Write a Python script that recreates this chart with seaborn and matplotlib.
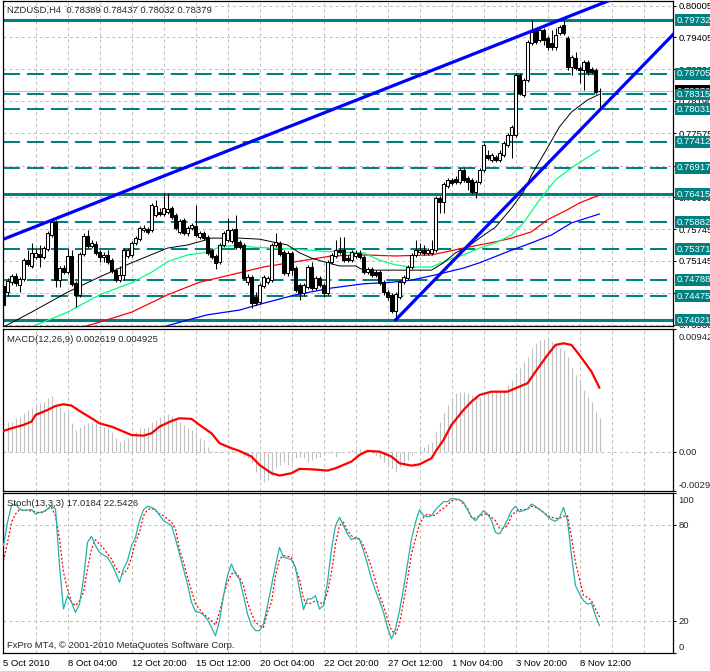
import matplotlib
matplotlib.use("Agg")
import matplotlib.pyplot as plt
import numpy as np
import seaborn as sns

# ---------------- data: NZDUSD H4 candles (bars 0..149) ----------------
opens = [
    0.7467, 0.7455, 0.7474, 0.7486, 0.7469, 0.7480, 0.7516, 0.7505, 0.7522, 0.7528,
    0.7522, 0.7537, 0.7564, 0.7589, 0.7478, 0.7501, 0.7493, 0.7524, 0.7473, 0.7450,
    0.7528, 0.7562, 0.7543, 0.7547, 0.7531, 0.7522, 0.7526, 0.7516, 0.7497, 0.7478,
    0.7488, 0.7524, 0.7526, 0.7549, 0.7556, 0.7574, 0.7576, 0.7574, 0.7602, 0.7608,
    0.7604, 0.7608, 0.7615, 0.7602, 0.7570, 0.7593, 0.7568, 0.7577, 0.7581, 0.7560,
    0.7568, 0.7560, 0.7535, 0.7524, 0.7513, 0.7545, 0.7554, 0.7552, 0.7576, 0.7551,
    0.7545, 0.7474, 0.7484, 0.7446, 0.7436, 0.7467, 0.7474, 0.7478, 0.7545, 0.7549,
    0.7531, 0.7492, 0.7530, 0.7501, 0.7469, 0.7454, 0.7465, 0.7503, 0.7463, 0.7482,
    0.7469, 0.7454, 0.7513, 0.7524, 0.7535, 0.7535, 0.7520, 0.7516, 0.7524, 0.7530,
    0.7522, 0.7493, 0.7499, 0.7493, 0.7493, 0.7474, 0.7455, 0.7450, 0.7419, 0.7446,
    0.7474, 0.7482, 0.7503, 0.7526, 0.7531, 0.7535, 0.7530, 0.7530, 0.7535, 0.7634,
    0.7627, 0.7657, 0.7669, 0.7671, 0.7665, 0.7688, 0.7672, 0.7669, 0.7646, 0.7665,
    0.7688, 0.7716, 0.7707, 0.7712, 0.7707, 0.7716, 0.7735, 0.7754, 0.7754, 0.7869,
    0.7830, 0.7859, 0.7929, 0.7954, 0.7935, 0.7954, 0.7939, 0.7929, 0.7922, 0.7948,
    0.7964, 0.7939, 0.7884, 0.7901, 0.7882, 0.7878, 0.7893, 0.7880, 0.7878, 0.78389,
]
highs = [
    0.7473, 0.7482, 0.7490, 0.7492, 0.7484, 0.7520, 0.7535, 0.7549, 0.7537, 0.7545,
    0.7543, 0.7572, 0.7593, 0.7593, 0.7505, 0.7507, 0.7539, 0.7535, 0.7476, 0.7531,
    0.7568, 0.7574, 0.7554, 0.7552, 0.7535, 0.7531, 0.7535, 0.7520, 0.7501, 0.7505,
    0.7539, 0.7539, 0.7552, 0.7562, 0.7581, 0.7583, 0.7579, 0.7625, 0.7631, 0.7615,
    0.7644, 0.7644, 0.7619, 0.7606, 0.7594, 0.7596, 0.7581, 0.7587, 0.7621, 0.7572,
    0.7572, 0.7564, 0.7539, 0.7528, 0.7549, 0.7572, 0.7596, 0.7577, 0.7602, 0.7554,
    0.7549, 0.7490, 0.7488, 0.7455, 0.7473, 0.7488, 0.7486, 0.7549, 0.7568, 0.7552,
    0.7535, 0.7533, 0.7533, 0.7505, 0.7473, 0.7473, 0.7507, 0.7513, 0.7486, 0.7486,
    0.7473, 0.7516, 0.7530, 0.7554, 0.7560, 0.7560, 0.7526, 0.7535, 0.7535, 0.7535,
    0.7526, 0.7503, 0.7503, 0.7497, 0.7497, 0.7478, 0.7459, 0.7454, 0.7455, 0.7478,
    0.7488, 0.7507, 0.7530, 0.7554, 0.7549, 0.7545, 0.7539, 0.7554, 0.7638, 0.7638,
    0.7665, 0.7672, 0.7672, 0.7676, 0.7691, 0.7691, 0.7676, 0.7672, 0.7669, 0.7691,
    0.7739, 0.7726, 0.7720, 0.7716, 0.7726, 0.7743, 0.7758, 0.7773, 0.7872, 0.7872,
    0.7863, 0.7935, 0.7973, 0.7958, 0.7958, 0.7958, 0.7943, 0.7954, 0.7958, 0.7964,
    0.7973, 0.7943, 0.7907, 0.7912, 0.7886, 0.7897, 0.7897, 0.7884, 0.7882, 0.78437,
]
lows = [
    0.7406, 0.7448, 0.7469, 0.7467, 0.7455, 0.7476, 0.7505, 0.7501, 0.7518, 0.7503,
    0.7518, 0.7533, 0.7560, 0.7465, 0.7465, 0.7490, 0.7490, 0.7467, 0.7427, 0.7446,
    0.7524, 0.7539, 0.7539, 0.7526, 0.7513, 0.7513, 0.7509, 0.7492, 0.7474, 0.7474,
    0.7478, 0.7520, 0.7522, 0.7545, 0.7552, 0.7570, 0.7566, 0.7570, 0.7598, 0.7600,
    0.7600, 0.7604, 0.7594, 0.7574, 0.7566, 0.7564, 0.7562, 0.7574, 0.7560, 0.7556,
    0.7554, 0.7526, 0.7518, 0.7499, 0.7509, 0.7541, 0.7551, 0.7549, 0.7537, 0.7537,
    0.7478, 0.7469, 0.7425, 0.7431, 0.7433, 0.7463, 0.7471, 0.7474, 0.7541, 0.7524,
    0.7488, 0.7486, 0.7488, 0.7455, 0.7440, 0.7448, 0.7461, 0.7459, 0.7459, 0.7465,
    0.7446, 0.7450, 0.7509, 0.7520, 0.7528, 0.7513, 0.7513, 0.7513, 0.7520, 0.7518,
    0.7490, 0.7490, 0.7484, 0.7484, 0.7469, 0.7450, 0.7440, 0.7415, 0.7402, 0.7442,
    0.7471, 0.7478, 0.7499, 0.7522, 0.7528, 0.7526, 0.7526, 0.7526, 0.7531, 0.7606,
    0.7606, 0.7653, 0.7659, 0.7661, 0.7661, 0.7665, 0.7650, 0.7642, 0.7634, 0.7661,
    0.7684, 0.7707, 0.7703, 0.7703, 0.7703, 0.7712, 0.7731, 0.7710, 0.7750, 0.7830,
    0.7827, 0.7855, 0.7926, 0.7927, 0.7931, 0.7926, 0.7916, 0.7916, 0.7916, 0.7945,
    0.7945, 0.7878, 0.7869, 0.7878, 0.7853, 0.7840, 0.7869, 0.7870, 0.7832, 0.78032,
]
closes = [
    0.7431, 0.7476, 0.7486, 0.7473, 0.7480, 0.7516, 0.7509, 0.7530, 0.7530, 0.7522,
    0.7539, 0.7568, 0.7589, 0.7478, 0.7501, 0.7493, 0.7524, 0.7471, 0.7450, 0.7528,
    0.7562, 0.7543, 0.7549, 0.7530, 0.7522, 0.7526, 0.7513, 0.7495, 0.7478, 0.7488,
    0.7535, 0.7535, 0.7549, 0.7558, 0.7577, 0.7577, 0.7570, 0.7621, 0.7619, 0.7604,
    0.7615, 0.7613, 0.7598, 0.7577, 0.7591, 0.7568, 0.7577, 0.7583, 0.7564, 0.7568,
    0.7558, 0.7530, 0.7522, 0.7511, 0.7545, 0.7568, 0.7574, 0.7574, 0.7541, 0.7541,
    0.7482, 0.7484, 0.7434, 0.7434, 0.7469, 0.7484, 0.7482, 0.7545, 0.7551, 0.7528,
    0.7492, 0.7530, 0.7497, 0.7459, 0.7454, 0.7469, 0.7503, 0.7463, 0.7482, 0.7469,
    0.7454, 0.7513, 0.7526, 0.7535, 0.7531, 0.7516, 0.7516, 0.7531, 0.7530, 0.7522,
    0.7493, 0.7499, 0.7488, 0.7488, 0.7473, 0.7455, 0.7446, 0.7419, 0.7452, 0.7474,
    0.7484, 0.7503, 0.7526, 0.7535, 0.7535, 0.7530, 0.7535, 0.7537, 0.7634, 0.7627,
    0.7661, 0.7669, 0.7663, 0.7665, 0.7688, 0.7669, 0.7665, 0.7646, 0.7665, 0.7688,
    0.7735, 0.7710, 0.7716, 0.7707, 0.7720, 0.7739, 0.7754, 0.7770, 0.7869, 0.7834,
    0.7859, 0.7931, 0.7950, 0.7931, 0.7954, 0.7935, 0.7922, 0.7922, 0.7945, 0.7960,
    0.7948, 0.7884, 0.7903, 0.7882, 0.7878, 0.7893, 0.7874, 0.7874, 0.7836, 0.78379,
]

# moving averages (bar, price)
ma_black_bar = [0, 7, 16, 24, 32, 41, 46, 49, 52, 59, 64, 71, 74, 77, 81, 84, 88, 90, 96, 101,
                107, 110, 113, 116, 119, 123, 127, 130, 132, 136, 139, 142, 146, 149]
ma_black_val = [0.7389, 0.7417, 0.7455, 0.7484, 0.7511, 0.7539, 0.7545, 0.7551, 0.7558, 0.7558,
                0.7556, 0.7545, 0.7530, 0.7520, 0.7511, 0.7505, 0.7505, 0.7497, 0.7497, 0.7497,
                0.7497, 0.7511, 0.7530, 0.7541, 0.7558, 0.7579, 0.7615, 0.7646, 0.7678, 0.7730,
                0.7770, 0.7798, 0.7821, 0.7832]
ma_lime_bar = [7, 16, 24, 32, 37, 41, 46, 51, 54, 59, 62, 67, 73, 80, 86, 90, 94, 98, 102, 107,
               111, 115, 119, 123, 127, 130, 134, 138, 143, 149]
ma_lime_val = [0.7389, 0.7417, 0.7450, 0.7473, 0.7493, 0.7513, 0.7526, 0.7531, 0.7541, 0.7545,
               0.7541, 0.7539, 0.7537, 0.7533, 0.7531, 0.7530, 0.7516, 0.7507, 0.7503, 0.7503,
               0.7516, 0.7526, 0.7539, 0.7549, 0.7564, 0.7587, 0.7631, 0.7669, 0.7697, 0.7726]
ma_red_bar = [20, 24, 32, 41, 49, 59, 65, 73, 82, 90, 98, 107, 115, 119, 123, 127, 132, 136, 141, 144, 149]
ma_red_val = [0.7389, 0.7398, 0.7417, 0.7450, 0.7474, 0.7492, 0.7503, 0.7513, 0.7524, 0.7526,
              0.7524, 0.7526, 0.7539, 0.7545, 0.7551, 0.7558, 0.7570, 0.7593, 0.7612, 0.7625, 0.7640]
ma_blue_bar = [40, 46, 51, 59, 65, 73, 82, 90, 97, 102, 108, 115, 119, 127, 132, 137, 142, 149]
ma_blue_val = [0.7389, 0.7402, 0.7412, 0.7421, 0.7434, 0.7450, 0.7463, 0.7471, 0.7474, 0.7478,
               0.7488, 0.7501, 0.7511, 0.7535, 0.7549, 0.7564, 0.7587, 0.7604]

# trend lines (anchor bar, anchor price)
trend_upper_bar = [0, 155]
trend_upper_price = [0.7556, 0.8021]
trend_lower_bar = [98, 170]
trend_lower_price = [0.7402, 0.7966]

# horizontal levels
levels_solid = [0.79732, 0.76415, 0.74021]
levels_dashed = [0.78705, 0.78315, 0.78031, 0.77412, 0.76917, 0.75882, 0.75371, 0.74788, 0.74475]
bid_price = 0.78379
price_ticks = [0.80005, 0.79405, 0.78790, 0.78190, 0.77575, 0.76960, 0.76360,
               0.75745, 0.75145, 0.74530, 0.73930]

# MACD in units of 1e-4
macd_hist = [
    15.8, 23.4, 23.4, 26.0, 27.2, 29.8, 32.3, 33.6, 36.2, 37.4,
    38.7, 41.2, 43.3, 36.2, 34.9, 31.1, 29.8, 22.1, 17.1, 19.6,
    20.9, 22.1, 23.4, 22.1, 20.9, 19.6, 18.3, 15.8, 10.7, 8.1,
    9.4, 10.7, 13.2, 15.8, 18.3, 18.3, 19.6, 23.4, 24.7, 27.2,
    28.5, 29.0, 28.0, 26.0, 23.4, 20.9, 18.3, 17.1, 15.8, 10.7,
    9.4, 4.3, 1.0, 0.0, -0.8, 0.5, 1.0, 1.8, 0.5, -0.8,
    -3.3, -4.6, -8.4, -14.8, -21.2, -22.4, -21.2, -17.3, -12.2, -9.7,
    -7.1, -9.7, -8.4, -4.6, -3.3, -4.6, -7.1, -5.9, -4.6, -3.3,
    -2.0, -0.8, -0.8, -3.3, -0.8, 0.5, 1.0, 1.8, 2.5, 2.5,
    1.8, 1.0, -0.8, -2.0, -4.6, -7.1, -9.7, -12.2, -14.8, -11.0,
    -8.4, -5.9, -2.0, 0.5, 2.5, 4.3, 6.1, 8.1, 15.8, 23.4,
    29.8, 36.2, 41.7, 45.1, 46.3, 46.3, 45.1, 43.8, 42.5, 42.5,
    43.8, 45.1, 46.3, 46.3, 47.6, 47.6, 51.4, 55.3, 60.4, 64.2,
    69.3, 73.1, 79.5, 83.3, 85.8, 86.6, 86.6, 84.5, 82.0, 79.5,
    78.2, 73.1, 65.4, 59.1, 54.0, 47.6, 42.5, 38.7, 31.1, 26.2,
]
macd_sig_bar = [0, 2, 5, 7, 8, 11, 13, 15, 17, 19, 22, 24, 27, 30, 32, 35, 37, 39, 42, 44,
                47, 49, 52, 54, 57, 59, 62, 64, 67, 69, 72, 74, 77, 81, 83, 87, 89, 91, 94, 97,
                99, 102, 104, 107, 108, 110, 112, 115, 117, 119, 122, 126, 128, 131, 133, 136,
                138, 140, 142, 144, 147, 149]
macd_sig_val = [16.3, 18.3, 20.9, 23.4, 28.5, 32.3, 35.4, 36.7, 35.7, 31.6, 26.0, 22.1, 19.6,
                15.8, 13.2, 12.7, 14.5, 19.6, 23.9, 26.0, 25.5, 20.9, 14.5, 6.9, 3.1, 1.0, -3.3,
                -9.7, -16.0, -17.8, -16.0, -12.7, -13.0, -14.0, -12.2, -7.1, -2.0, 1.0, 0.5,
                -3.3, -8.4, -10.2, -9.2, -4.6, 0.5, 9.4, 20.9, 32.3, 38.7, 43.8, 46.3, 46.3,
                48.9, 52.7, 61.6, 74.3, 82.0, 83.3, 82.0, 74.3, 61.6, 49.25]

# Stochastic (13,3,3)
stoch_main = [
    67.1, 81.7, 92.1, 93.1, 90.0, 89.0, 89.4, 89.6, 86.9, 87.9,
    88.3, 90.0, 92.1, 90.0, 54.6, 27.5, 35.8, 31.7, 25.4, 30.6,
    46.2, 69.2, 72.9, 67.1, 62.9, 61.2, 59.8, 55.6, 50.4, 44.2,
    52.5, 57.7, 67.1, 72.3, 82.7, 89.6, 91.7, 91.0, 89.6, 86.2,
    82.7, 81.2, 79.6, 71.2, 61.9, 52.5, 43.1, 31.7, 25.8, 25.4,
    23.8, 20.8, 16.0, 10.8, 20.2, 35.8, 48.3, 55.6, 49.4, 46.2,
    35.8, 24.4, 17.1, 14.0, 14.0, 18.1, 29.6, 42.1, 54.6, 66.0,
    59.8, 59.2, 58.3, 53.5, 40.0, 27.1, 33.8, 33.8, 35.8, 27.5,
    29.6, 44.2, 65.0, 79.6, 84.8, 79.6, 74.4, 70.8, 72.3, 71.2,
    64.0, 55.6, 46.2, 39.0, 32.7, 25.4, 16.0, 8.8, 15.0, 26.5,
    40.0, 55.6, 71.2, 81.7, 89.6, 85.8, 85.2, 85.8, 89.6, 92.1,
    94.6, 94.6, 96.7, 96.2, 95.8, 94.2, 89.6, 84.8, 82.7, 85.8,
    89.0, 86.9, 82.7, 75.4, 74.4, 78.5, 83.3, 89.0, 91.7, 88.3,
    89.0, 90.0, 93.1, 91.7, 89.6, 87.9, 85.4, 83.3, 82.3, 84.4,
    91.0, 82.7, 60.8, 42.1, 36.9, 32.7, 30.6, 31.2, 23.3, 17.02,
]
stoch_signal = [
    57.7, 69.2, 81.7, 86.9, 89.6, 89.4, 89.0, 88.8, 88.3, 87.5,
    87.9, 90.0, 91.0, 85.8, 71.2, 50.4, 40.0, 31.7, 29.6, 32.7,
    37.9, 52.5, 65.0, 70.8, 68.1, 65.4, 61.9, 58.8, 53.5, 50.4,
    49.4, 52.5, 59.8, 69.2, 75.4, 85.8, 89.6, 90.4, 89.0, 86.9,
    85.8, 83.8, 81.7, 77.5, 65.0, 56.7, 47.3, 39.0, 30.6, 27.5,
    24.4, 22.3, 20.2, 17.5, 25.4, 35.8, 44.2, 49.4, 50.4, 47.3,
    42.1, 31.7, 24.4, 19.2, 17.1, 16.0, 25.4, 31.7, 48.3, 58.8,
    60.8, 60.4, 59.8, 52.5, 46.2, 33.8, 30.6, 31.2, 32.7, 31.7,
    30.6, 37.9, 50.4, 68.1, 79.6, 81.7, 76.5, 73.3, 71.2, 71.2,
    67.1, 60.8, 53.5, 45.2, 36.2, 29.6, 21.2, 14.0, 11.9, 18.1,
    31.7, 46.2, 61.9, 71.2, 80.6, 84.8, 86.9, 85.8, 86.2, 88.8,
    90.4, 92.5, 95.0, 95.8, 95.8, 93.1, 90.4, 84.8, 84.2, 85.8,
    86.5, 86.9, 84.8, 82.7, 77.9, 77.9, 79.6, 85.8, 88.3, 89.6,
    89.6, 90.0, 91.7, 91.0, 90.0, 87.9, 85.8, 84.8, 84.2, 84.2,
    85.4, 85.8, 72.3, 56.7, 46.2, 35.8, 34.8, 32.7, 27.5, 22.54,
]

date_bars = [0, 16, 32, 48, 64, 80, 96, 112, 128, 144]
date_labels = ["5 Oct 2010", "8 Oct 04:00", "12 Oct 20:00", "15 Oct 12:00", "20 Oct 04:00",
               "22 Oct 20:00", "27 Oct 12:00", "1 Nov 04:00", "3 Nov 20:00", "8 Nov 12:00"]

# ---------------- style ----------------
sns.set_style("white")
plt.rcParams["font.family"] = ["Liberation Sans", "DejaVu Sans"]
FS = 6.8
GRID = "#c0c0c0"
TEAL = "#008080"
GRID_LS = (0, (2.9, 2.9))

W, H = 710, 671
fig = plt.figure(figsize=(W / 100, H / 100), dpi=100)


def panel(top, bottom):
    return fig.add_axes([3 / W, 1 - bottom / H, 670 / W, (bottom - top) / H])


ax_p = panel(1, 326)
ax_m = panel(329, 491)
ax_s = panel(493, 653)

for ax in (ax_p, ax_m, ax_s):
    ax.set_xlim(-0.125, 167.375)
    ax.set_facecolor("white")
    for s in ax.spines.values():
        s.set_color("black")
        s.set_linewidth(0.9)
    for gx in range(0, 168, 8):
        ax.axvline(gx, color=GRID, lw=0.75, ls=GRID_LS, zorder=0)
    ax.yaxis.tick_right()
    ax.tick_params(axis="y", length=2.5, width=0.75, pad=1.5, labelsize=FS, colors="black")
    ax.set_xticks([])

idx = np.arange(len(closes))
o = np.array(opens)
c = np.array(closes)

# ---------------- price panel ----------------
ax_p.set_ylim(0.73907, 0.80094)
ax_p.set_yticks(price_ticks)
ax_p.set_yticklabels([f"{v:.5f}" for v in price_ticks])
for v in price_ticks:
    ax_p.axhline(v, color=GRID, lw=0.75, ls=GRID_LS, zorder=0)
for v in levels_solid:
    ax_p.axhline(v, color=TEAL, lw=2.2, zorder=1)
for v in levels_dashed:
    ax_p.axhline(v, color=TEAL, lw=1.45, dashes=(8.4, 3.5), zorder=1)
ax_p.axhline(bid_price, color=GRID, lw=0.75, zorder=1)

for bx, vy, col, lw in [(ma_blue_bar, ma_blue_val, "#0000ff", 0.9),
                        (ma_red_bar, ma_red_val, "#ff0000", 0.9),
                        (ma_lime_bar, ma_lime_val, "#00ff7f", 0.9),
                        (ma_black_bar, ma_black_val, "black", 0.7)]:
    sns.lineplot(x=bx, y=vy, ax=ax_p, color=col, lw=lw, sort=False,
                 estimator=None, legend=False, zorder=2)

ax_p.vlines(idx, lows, highs, color="black", lw=0.75, zorder=3)
ax_p.bar(idx, np.abs(c - o), bottom=np.minimum(o, c), width=0.55,
         color=np.where(c >= o, "white", "black"), edgecolor="black",
         linewidth=0.75, zorder=4)

for bx, py in [(trend_upper_bar, trend_upper_price), (trend_lower_bar, trend_lower_price)]:
    sns.lineplot(x=bx, y=py, ax=ax_p, color="#0000ff", lw=2.3, sort=False,
                 estimator=None, legend=False, zorder=5)

ytr = ax_p.get_yaxis_transform()
xr = (676.5 - 3) / 670
ax_p.text(xr, bid_price, f"{bid_price:.5f}", transform=ytr, va="center", ha="left",
          color="white", fontsize=FS, clip_on=False, zorder=9,
          bbox=dict(boxstyle="square,pad=0.15", fc="black", ec="none"))
for v in levels_solid + levels_dashed:
    ax_p.text(xr, v, f"{v:.5f}", transform=ytr, va="center", ha="left",
              color="white", fontsize=FS, clip_on=False, zorder=10,
              bbox=dict(boxstyle="square,pad=0.15", fc=TEAL, ec="none"))

# ---------------- MACD panel ----------------
ax_m.set_ylim(-29.6, 94.2)
ax_m.axhline(0, color=GRID, lw=0.75, ls=GRID_LS, zorder=0)
ax_m.vlines(idx, 0, macd_hist, color="#c0c0c0", lw=0.8, zorder=2)
sns.lineplot(x=macd_sig_bar, y=macd_sig_val, ax=ax_m, color="#ff0000", lw=1.6,
             sort=False, estimator=None, legend=False, zorder=3)
ax_m.set_yticks([94.2, 0, -29.6])
ax_m.set_yticklabels([])
mtr = ax_m.get_yaxis_transform()
# screen offset in pixels: negative moves the label down
for v, lab, dy in [(94.2, "0.009420", -8), (0, "0.00", 0), (-29.6, "-0.002960", 6)]:
    ax_m.annotate(lab, xy=(1, v), xycoords=mtr, xytext=(5.5, dy),
                  textcoords="offset pixels", va="center", ha="left",
                  fontsize=FS, annotation_clip=False)

# ---------------- Stochastic panel ----------------
ax_s.set_ylim(0, 100)
for v in (20, 80):
    ax_s.axhline(v, color=GRID, lw=0.75, ls=GRID_LS, zorder=0)
sns.lineplot(x=idx, y=stoch_main, ax=ax_s, color="#20b2aa", lw=0.9,
             sort=False, estimator=None, legend=False, zorder=3)
sns.lineplot(x=idx, y=stoch_signal, ax=ax_s, color="#ff0000", lw=0.9,
             linestyle=(0, (1.6, 1.6)), sort=False, estimator=None, legend=False, zorder=2)
ax_s.set_yticks([100, 80, 20, 0])
ax_s.set_yticklabels([])
s_tr = ax_s.get_yaxis_transform()
for v, dy in [(100, -7.5), (80, 0), (20, 0), (0, 5.5)]:
    ax_s.annotate(str(v), xy=(1, v), xycoords=s_tr, xytext=(5.5, dy),
                  textcoords="offset pixels", va="center", ha="left",
                  fontsize=FS, annotation_clip=False)

ax_s.set_xticks(date_bars)
ax_s.set_xticklabels(date_labels, ha="left", fontsize=FS)
ax_s.tick_params(axis="x", length=3, width=0.75, pad=1.5, colors="black")

for ax in (ax_p, ax_m, ax_s):
    ax.set_xlabel("")
    ax.set_ylabel("")

# ---------------- captions ----------------
fig.text(7 / W, 1 - 10 / H, "NZDUSD,H4  0.78389 0.78437 0.78032 0.78379",
         va="center", ha="left", fontsize=FS)
fig.text(7 / W, 1 - 340 / H, "MACD(12,26,9) 0.002619 0.004925",
         va="center", ha="left", fontsize=FS)
fig.text(7 / W, 1 - 504 / H, "Stoch(13,3,3) 17.0184 22.5426",
         va="center", ha="left", fontsize=FS)
fig.text(7 / W, 1 - 645 / H, "FxPro MT4, \u00a9 2001-2010 MetaQuotes Software Corp.",
         va="center", ha="left", fontsize=FS)

fig.savefig("out.png", dpi=100, facecolor="white")
